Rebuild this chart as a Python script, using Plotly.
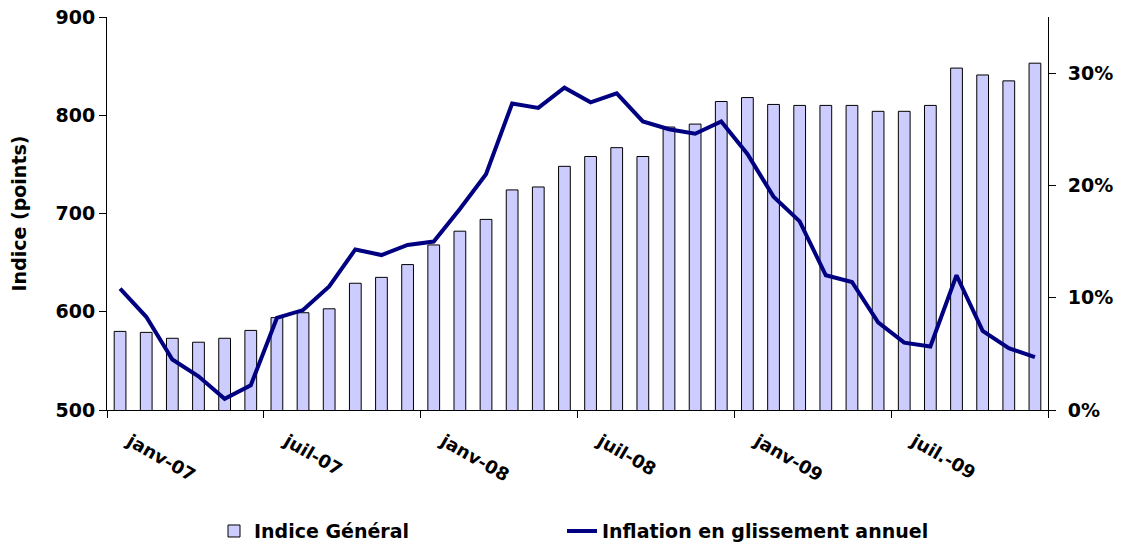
import plotly.graph_objects as go

# ── data ────────────────────────────────────
months = [
    "janv-07", "févr-07", "mars-07", "avr-07", "mai-07", "juin-07",
    "juil-07", "août-07", "sept-07", "oct-07", "nov-07", "déc-07",
    "janv-08", "févr-08", "mars-08", "avr-08", "mai-08", "juin-08",
    "juil-08", "août-08", "sept-08", "oct-08", "nov-08", "déc-08",
    "janv-09", "févr-09", "mars-09", "avr-09", "mai-09", "juin-09",
    "juil.-09", "août-09", "sept-09", "oct-09", "nov-09", "déc-09",
]
indice = [
    580, 579, 573, 569, 573, 581, 594, 599, 603, 629, 635, 648,
    668, 682, 694, 724, 727, 748, 758, 767, 758, 788, 791, 814,
    818, 811, 810, 810, 810, 804, 804, 810, 848, 841, 835, 853,
]
inflation = [
    0.108, 0.083, 0.045, 0.030, 0.010, 0.022, 0.082, 0.089, 0.110, 0.143, 0.138, 0.147,
    0.150, 0.179, 0.210, 0.273, 0.269, 0.287, 0.274, 0.282, 0.257, 0.250, 0.246, 0.257,
    0.228, 0.190, 0.168, 0.120, 0.114, 0.078, 0.060, 0.0565, 0.120, 0.0705, 0.055, 0.047,
]
label_every = 6

FONT = "DejaVu Sans"
pos = list(range(len(months)))
bold = dict(family=FONT, size=19, weight="bold")

# the page body has an 8px margin, so the figure is 8px smaller than the window
W, H = 1119, 536

fig = go.Figure()
fig.add_trace(go.Bar(
    x=pos, y=indice, name="Indice Général",
    marker=dict(color="#CCCCFF", line=dict(color="black", width=1)),
    width=0.45, legend="legend",
))
fig.add_trace(go.Scatter(
    x=pos, y=inflation, name="Inflation en glissement annuel",
    mode="lines", line=dict(color="#000080", width=4),
    yaxis="y2", legend="legend2",
))

axis_common = dict(
    ticks="outside", ticklen=7, tickcolor="black",
    showline=True, linecolor="black", linewidth=1,
    showgrid=False, zeroline=False, automargin=False,
    ticklabeloverflow="allow",
    tickfont=bold,
)

# legends are placed in container coordinates so they don't push the margins
legend_common = dict(
    orientation="h", xref="container", yref="container",
    y=0.024, xanchor="left", yanchor="middle",
    font=bold, bgcolor="rgba(0,0,0,0)",
)

fig.update_layout(
    width=W, height=H,
    paper_bgcolor="white", plot_bgcolor="white",
    margin=dict(l=99, r=79, t=9, b=134),
    font=dict(family=FONT, size=19, color="black"),
    xaxis=dict(
        range=[-0.5, len(months) - 0.5],
        tickmode="array",
        tickvals=pos[::label_every],
        ticktext=months[::label_every],
        ticks="", tickangle=30, ticklabelstandoff=13, ticklabelshift=10,
        tickfont=dict(family=FONT, size=18, weight="bold"),
        showline=True, linecolor="black", linewidth=1,
        showgrid=False, zeroline=False, automargin=False,
        minor=dict(tick0=-0.5, dtick=label_every, ticks="outside",
                   ticklen=7, tickcolor="black", showgrid=False),
    ),
    yaxis=dict(
        range=[500, 900], dtick=100,
        title=dict(text="Indice (points)", standoff=30, font=bold),
        **axis_common,
    ),
    yaxis2=dict(
        overlaying="y", side="right",
        range=[0, 0.35], tickvals=[0, 0.1, 0.2, 0.3], tickformat=".0%",
        ticklabelstandoff=8,
        **axis_common,
    ),
    legend=dict(x=206 / W, **legend_common),
    legend2=dict(x=554 / W, **legend_common),
    showlegend=True,
)

fig.write_html("out.html")
